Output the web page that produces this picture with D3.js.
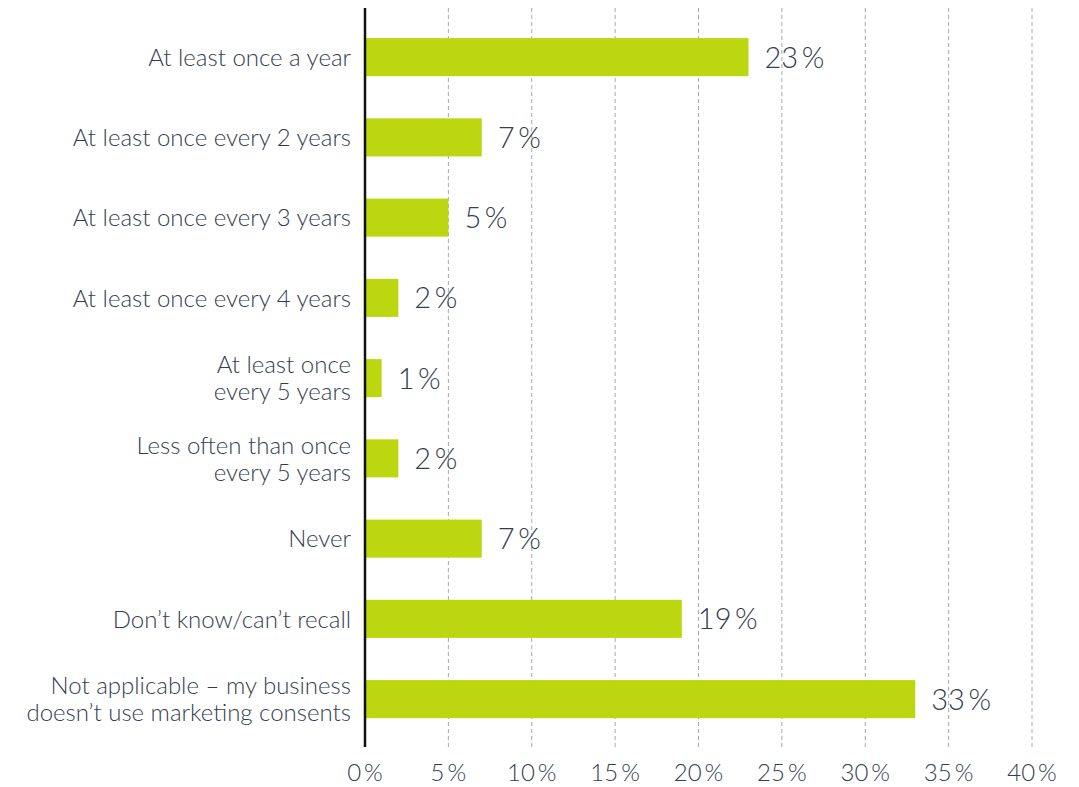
<!DOCTYPE html>
<html>
<head>
<meta charset="utf-8">
<script src="https://cdn.jsdelivr.net/npm/d3@7"></script>
<style>
  body { margin: 0; background: #fff; }
  text { font-family: Lato, "Open Sans", sans-serif; font-weight: 300; fill: #333e50; }
</style>
</head>
<body>
<div id="chart"></div>
<script>
// data
let CATEGORIES = [
    "At least once a year",
    "At least once every 2 years",
    "At least once every 3 years",
    "At least once every 4 years",
    "At least once\nevery 5 years",
    "Less often than once\nevery 5 years",
    "Never",
    "Don\u2019t know/can\u2019t recall",
    "Not applicable \u2013 my business\ndoesn\u2019t use marketing consents"
]
let VALUES = [23, 7, 5, 2, 1, 2, 7, 19, 33]
let TICKS = [0, 5, 10, 15, 20, 25, 30, 35, 40]

let width = 1079, height = 787
let axisLeft = 365, axisRight = 1032
let plotTop = 8, plotBottom = 747

let svg = d3.select("#chart")
    .append("svg")
    .attr("width", width)
    .attr("height", height)

let x = d3.scaleLinear()
    .domain([0, 40])
    .range([axisLeft, axisRight])

let y = d3.scaleBand()
    .domain(CATEGORIES)
    .range([17, 739.25])
    .paddingInner(0.526)
    .paddingOuter(0.263)

// dashed gridlines
svg.append("g")
    .selectAll("line")
    .data(TICKS.slice(1))
    .enter()
    .append("line")
    .attr("x1", function (d) { return x(d) })
    .attr("x2", function (d) { return x(d) })
    .attr("y1", plotTop)
    .attr("y2", plotBottom)
    .attr("stroke", "#a8a8a8")
    .attr("stroke-width", 1)
    .attr("stroke-dasharray", "4,3")

// bars
svg.append("g")
    .selectAll("rect")
    .data(VALUES)
    .enter()
    .append("rect")
    .attr("x", x(0))
    .attr("y", function (d, i) { return y(CATEGORIES[i]) })
    .attr("width", function (d) { return x(d) - x(0) })
    .attr("height", y.bandwidth())
    .attr("fill", "#bcd70f")

// value labels
svg.append("g")
    .selectAll("text")
    .data(VALUES)
    .enter()
    .append("text")
    .attr("x", function (d) { return x(d) + 16 })
    .attr("y", function (d, i) { return y(CATEGORIES[i]) + y.bandwidth() / 2 })
    .attr("dy", "0.36em")
    .style("font-size", "29px")
    .text(function (d) { return d + "\u2009%" })

// category labels
let catLabels = svg.append("g")
    .selectAll("text")
    .data(CATEGORIES)
    .enter()
    .append("text")
    .attr("text-anchor", "end")
    .style("font-size", "24px")
    .attr("transform", function (d) { return "translate(" + (axisLeft - 14) + "," + (y(d) + y.bandwidth() / 2) + ")" })

catLabels.each(function (d) {
    let lines = d.split("\n")
    let lh = 27
    let t = d3.select(this)
    lines.forEach(function (ln, j) {
        t.append("tspan")
            .attr("x", 0)
            .attr("y", (j - (lines.length - 1) / 2) * lh)
            .attr("dy", "0.36em")
            .text(ln)
    })
})

// x tick labels
svg.append("g")
    .selectAll("text")
    .data(TICKS)
    .enter()
    .append("text")
    .attr("x", function (d) { return x(d) })
    .attr("y", 772)
    .attr("text-anchor", "middle")
    .attr("dy", "0.36em")
    .style("font-size", "24px")
    .text(function (d) { return d + "\u2009%" })

// vertical axis line
svg.append("line")
    .attr("x1", axisLeft)
    .attr("x2", axisLeft)
    .attr("y1", plotTop)
    .attr("y2", plotBottom)
    .attr("stroke", "#111")
    .attr("stroke-width", 2.5)
</script>
</body>
</html>
